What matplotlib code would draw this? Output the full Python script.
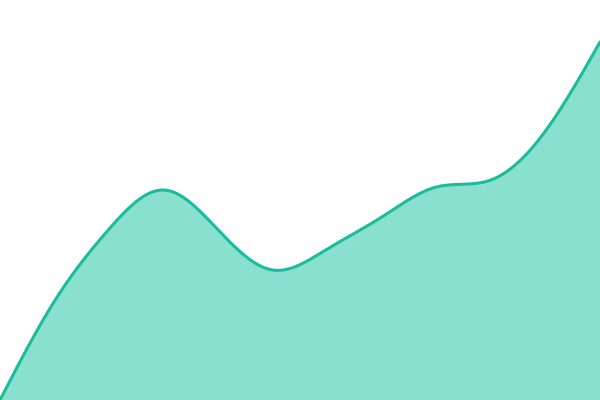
import numpy as np
import matplotlib
matplotlib.use('Agg')
import matplotlib.pyplot as plt

# values (pixel height above the bottom edge)
positions = np.arange(12)
values = [0, 99, 171, 210, 170, 130, 151, 183, 213, 220, 269, 358]


def natural_spline(x, y, n=40):
	# natural cubic spline through the points
	x = np.asarray(x, float)
	y = np.asarray(y, float)
	k = len(x)
	h = np.diff(x)
	A = np.zeros((k, k))
	b = np.zeros(k)
	A[0, 0] = A[-1, -1] = 1
	for i in range(1, k - 1):
		A[i, i - 1] = h[i - 1]
		A[i, i] = 2 * (h[i - 1] + h[i])
		A[i, i + 1] = h[i]
		b[i] = 6 * ((y[i + 1] - y[i]) / h[i] - (y[i] - y[i - 1]) / h[i - 1])
	m = np.linalg.solve(A, b)
	xs, ys = [], []
	for i in range(k - 1):
		u = np.linspace(x[i], x[i + 1], n, endpoint=False)
		a = x[i + 1] - u
		c = u - x[i]
		v = (m[i] * a**3 + m[i + 1] * c**3) / (6 * h[i]) \
			+ (y[i] / h[i] - m[i] * h[i] / 6) * a + (y[i + 1] / h[i] - m[i + 1] * h[i] / 6) * c
		xs.append(u)
		ys.append(v)
	xs.append([x[-1]])
	ys.append([y[-1]])
	return np.concatenate(xs), np.concatenate(ys)


xs, ys = natural_spline(positions, values)

fig = plt.figure(figsize=(6, 4), dpi=100)
ax = fig.add_axes([0, 0, 1, 1])
ax.fill_between(xs, ys, 0, color='#8ae0cf', linewidth=0)
ax.plot(xs, ys, color='#1abc9c', linewidth=2.2, solid_capstyle='round')
ax.set_xlim(positions[0], positions[-1])
ax.set_ylim(0, 400)
ax.axis('off')
fig.savefig('out.png', dpi=100)
